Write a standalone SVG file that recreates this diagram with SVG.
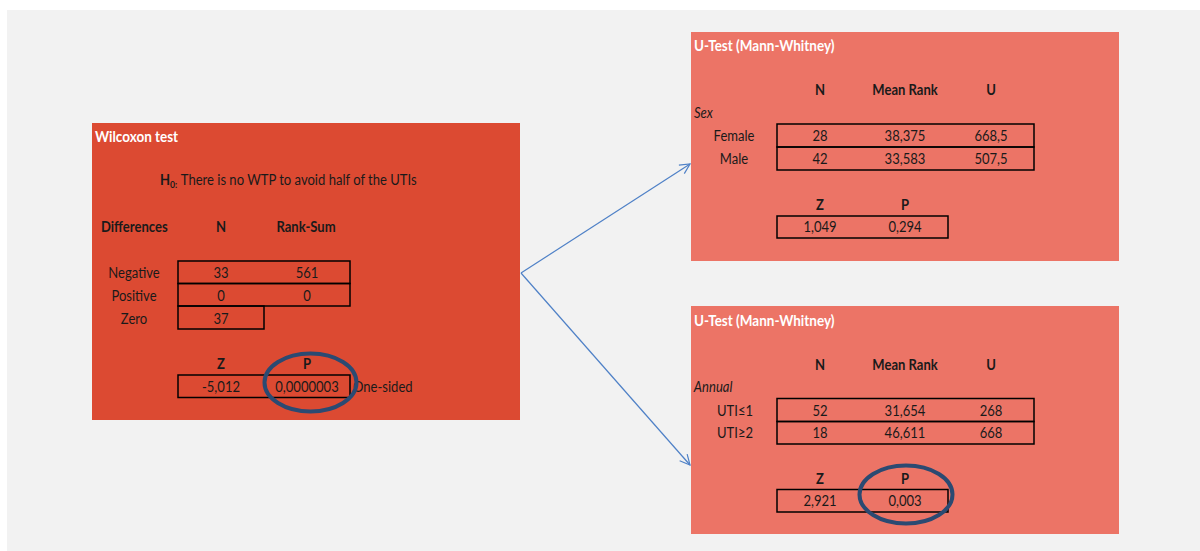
<svg xmlns="http://www.w3.org/2000/svg" width="1200" height="551" viewBox="0 0 1200 551">
<defs>
<style>
text{font-family:Lato,"Open Sans","Liberation Sans",sans-serif;font-size:15px;fill:#1a1a1a;transform-box:fill-box;transform-origin:center;transform:scaleX(0.87)}
text.l{transform-origin:left center}
text.t{font-weight:bold;fill:#ffffff;transform:scaleX(0.9)}
.b{font-weight:bold}
.i{font-style:italic}
.c{text-anchor:middle}
.cell{fill:none;stroke:#000;stroke-width:1.5}
.ring{fill:none;stroke:#2B4A72;stroke-width:4}
.conn{fill:none;stroke:#4F81C7;stroke-width:1.2}
</style>
<marker id="arr" viewBox="0 0 12 12" refX="11" refY="6" markerWidth="12" markerHeight="12" markerUnits="userSpaceOnUse" orient="auto">
<path d="M1,1 L11,6 L1,11" fill="none" stroke="#4F81C7" stroke-width="1.2"/>
</marker>
</defs>
<rect x="0" y="0" width="1200" height="551" fill="#ffffff"/>
<rect x="7" y="10" width="1193" height="541" fill="#F2F2F2"/>

<g id="connectors">
<path class="conn" d="M521,273 L690,164" marker-end="url(#arr)"/>
<path class="conn" d="M521,273 L690,465" marker-end="url(#arr)"/>
</g>

<g id="wilcoxon">
<rect x="92" y="123" width="428" height="297" fill="#DC4A32"/>
<text class="t l" x="95" y="142">Wilcoxon test</text>
<text class="l" x="160" y="185"><tspan class="b">H</tspan><tspan font-size="10" dy="3" font-weight="bold">0:</tspan><tspan dy="-3" dx="4">There is no WTP to avoid half of the UTIs</tspan></text>
<text class="b l" x="101" y="232">Differences</text>
<text class="b c" x="221" y="232">N</text>
<text class="b c" x="306" y="232">Rank-Sum</text>
<rect class="cell" x="178" y="261" width="172" height="22.5"/>
<rect class="cell" x="178" y="283.5" width="172" height="22.5"/>
<rect class="cell" x="178" y="306" width="86" height="23"/>
<text class="c" x="134" y="278">Negative</text>
<text class="c" x="134" y="301">Positive</text>
<text class="c" x="134" y="324">Zero</text>
<text class="c" x="221" y="278">33</text>
<text class="c" x="307" y="278">561</text>
<text class="c" x="221" y="301">0</text>
<text class="c" x="307" y="301">0</text>
<text class="c" x="221" y="324">37</text>
<text class="b c" x="221" y="369">Z</text>
<text class="b c" x="307" y="369">P</text>
<rect class="cell" x="178" y="375" width="172" height="22.5"/>
<text class="c" x="221" y="392">-5,012</text>
<text class="c" x="307" y="392">0,0000003</text>
<text class="l" x="353" y="392">One-sided</text>
<ellipse class="ring" cx="310.5" cy="382.5" rx="46" ry="29"/>
</g>

<g id="utest-sex">
<rect x="691" y="32" width="428" height="229" fill="#EC7466"/>
<text class="t l" x="694" y="51">U-Test (Mann-Whitney)</text>
<text class="b c" x="820" y="95">N</text>
<text class="b c" x="905" y="95">Mean Rank</text>
<text class="b c" x="991" y="95">U</text>
<text class="i l" x="694" y="118">Sex</text>
<rect class="cell" x="777" y="124" width="257" height="23"/>
<rect class="cell" x="777" y="147" width="257" height="23"/>
<text class="c" x="734" y="141">Female</text>
<text class="c" x="734" y="164">Male</text>
<text class="c" x="820" y="141">28</text>
<text class="c" x="905" y="141">38,375</text>
<text class="c" x="991" y="141">668,5</text>
<text class="c" x="820" y="164">42</text>
<text class="c" x="905" y="164">33,583</text>
<text class="c" x="991" y="164">507,5</text>
<text class="b c" x="820" y="210">Z</text>
<text class="b c" x="905" y="210">P</text>
<rect class="cell" x="777" y="216" width="171" height="22"/>
<text class="c" x="820" y="232">1,049</text>
<text class="c" x="905" y="232">0,294</text>
</g>

<g id="utest-annual">
<rect x="691" y="306" width="428" height="228" fill="#EC7466"/>
<text class="t l" x="694" y="326">U-Test (Mann-Whitney)</text>
<text class="b c" x="820" y="370">N</text>
<text class="b c" x="905" y="370">Mean Rank</text>
<text class="b c" x="991" y="370">U</text>
<text class="i l" x="694" y="392">Annual</text>
<rect class="cell" x="777" y="398.5" width="257" height="23"/>
<rect class="cell" x="777" y="421.5" width="257" height="22.5"/>
<text class="c" x="735" y="416">UTI≤1</text>
<text class="c" x="735" y="438">UTI≥2</text>
<text class="c" x="820" y="416">52</text>
<text class="c" x="905" y="416">31,654</text>
<text class="c" x="991" y="416">268</text>
<text class="c" x="820" y="438">18</text>
<text class="c" x="905" y="438">46,611</text>
<text class="c" x="991" y="438">668</text>
<text class="b c" x="820" y="484">Z</text>
<text class="b c" x="905" y="484">P</text>
<rect class="cell" x="777" y="489.5" width="171" height="22.5"/>
<text class="c" x="820" y="506">2,921</text>
<text class="c" x="905" y="506">0,003</text>
<ellipse class="ring" cx="906" cy="494.5" rx="46.5" ry="29"/>
</g>
</svg>
